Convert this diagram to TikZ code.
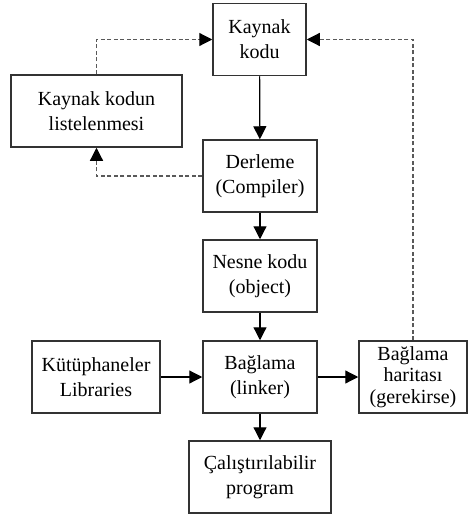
\documentclass[tikz,border=0pt]{standalone}
\usepackage{fontspec}
\setmainfont{Liberation Serif}
\usetikzlibrary{arrows.meta}

\begin{document}
\begin{tikzpicture}[x=1pt, y=-1pt, >={Triangle[length=13pt, width=13pt]},
    kutu/.style={draw=black!80, line width=1.5pt, align=center, inner sep=0pt,
      minimum height=72pt, font=\fontsize{20}{25}\selectfont},
    ok/.style={->, line width=1.2pt, black},
    kesik/.style={-{Triangle[length=13pt, width=13pt, color=black]}, line width=1.2pt,
      black!65, dash pattern=on 4pt off 2.5pt}]

  \useasboundingbox (0,0) rectangle (468,519);

  % Kutular
  \node[kutu, minimum width=93pt]  (kod)    at (259.5,39.5) {Kaynak\\kodu};
  \node[kutu, minimum width=171pt] (liste)  at (96.5,111)   {Kaynak kodun\\listelenmesi};
  \node[kutu, minimum width=114pt] (derle)  at (260,176)    {Derleme\\(Compiler)};
  \node[kutu, minimum width=114pt] (nesne)  at (260,276)    {Nesne kodu\\(object)};
  \node[kutu, minimum width=114pt] (bagla)  at (260,377)    {Bağlama\\(linker)};
  \node[kutu, minimum width=128pt] (kutup)  at (96,377)     {Kütüphaneler\\Libraries};
  \node[kutu, minimum width=108pt, font=\fontsize{20}{21.5}\selectfont]
                                   (harita) at (413,377)    {Bağlama\\haritası\\(gerekirse)};
  \node[kutu, minimum width=142pt] (calis)  at (260,477)    {Çalıştırılabilir\\program};

  % Ana akis
  \draw[ok] (kod) -- (derle);
  \draw[ok] (derle) -- (nesne);
  \draw[ok] (nesne) -- (bagla);
  \draw[ok] (bagla) -- (calis);
  \draw[ok] (kutup) -- (bagla);
  \draw[ok] (bagla) -- (harita);

  % Geri donusler
  \draw[kesik] (liste.north) |- (kod.west);
  \draw[kesik] (harita.north) |- (kod.east);
  \draw[kesik] (derle.west) -| (liste.south);

\end{tikzpicture}
\end{document}
